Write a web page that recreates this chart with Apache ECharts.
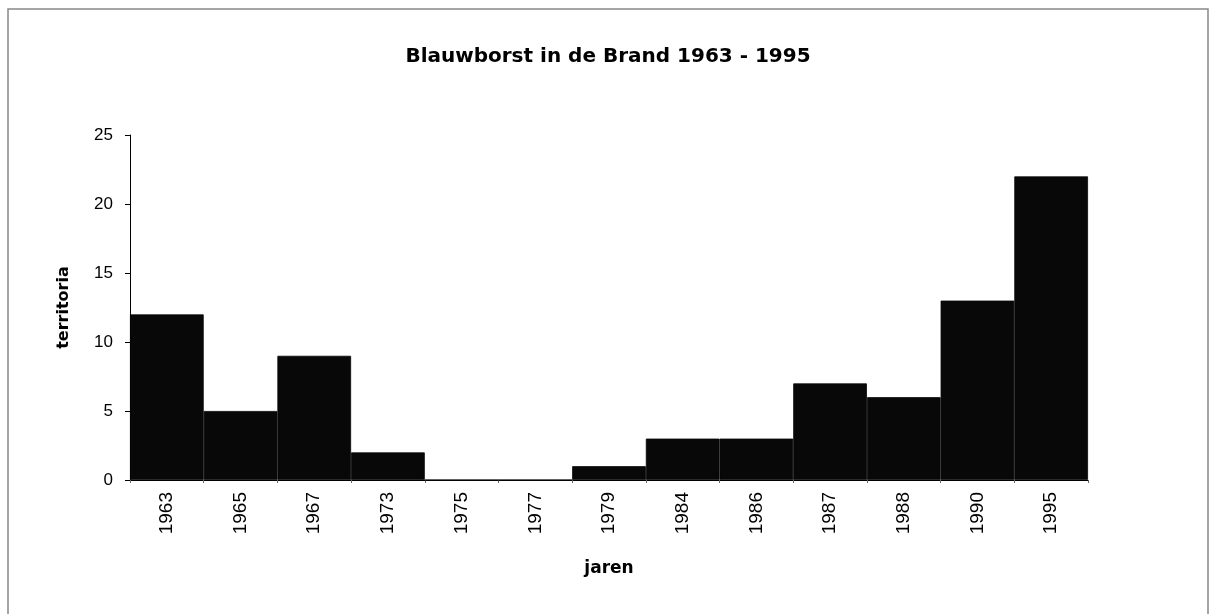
<!DOCTYPE html>
<html>
<head>
<meta charset="utf-8">
<script src="https://cdn.jsdelivr.net/npm/echarts@6/dist/echarts.min.js"></script>
<style>
  html, body { margin: 0; padding: 0; background: #fff; }
  #chart { width: 1216px; height: 614px; }
</style>
</head>
<body>
<div id="chart"></div>
<script>
const years = ['1963', '1965', '1967', '1973', '1975', '1977', '1979', '1984', '1986', '1987', '1988', '1990', '1995']
const territoria = [12, 5, 9, 2, 0, 0, 1, 3, 3, 7, 6, 13, 22]
const yTicks = { min: 0, max: 25, interval: 5 }

const chart = echarts.init(document.getElementById('chart'))

const font = '"Liberation Sans", Arial, sans-serif'
const wideFont = '"DejaVu Sans", sans-serif'

const option = {
  backgroundColor: '#fff',
  animation: false,
  graphic: [
    {
      type: 'rect',
      shape: { x: 8, y: 9, width: 1200, height: 640 },
      style: { fill: 'none', stroke: '#888', lineWidth: 1.5 },
      silent: true
    }
  ],
  title: {
    text: 'Blauwborst in de Brand 1963 - 1995',
    left: 'center',
    top: 42,
    textStyle: { fontFamily: wideFont, fontSize: 20, fontWeight: 'bold', color: '#000' }
  },
  grid: { left: 130, right: 128, top: 135, bottom: 134 },
  xAxis: {
    type: 'category',
    data: years,
    name: 'jaren',
    nameLocation: 'middle',
    nameGap: 80,
    nameTextStyle: { fontFamily: wideFont, fontSize: 17, fontWeight: 'bold', color: '#000' },
    axisLine: { lineStyle: { color: '#000', width: 1 } },
    axisTick: { show: true, length: 3, lineStyle: { color: '#666' } },
    axisLabel: { rotate: 90, fontFamily: font, fontSize: 19, color: '#000', margin: 12 }
  },
  yAxis: {
    type: 'value',
    min: yTicks.min,
    max: yTicks.max,
    interval: yTicks.interval,
    name: 'territoria',
    nameLocation: 'middle',
    nameGap: 58,
    nameTextStyle: { fontFamily: wideFont, fontSize: 16, fontWeight: 'bold', color: '#000' },
    axisLine: { show: true, lineStyle: { color: '#000', width: 1 } },
    axisTick: { show: true, length: 5, lineStyle: { color: '#000' } },
    axisLabel: { fontFamily: font, fontSize: 17, color: '#000', margin: 17 },
    splitLine: { show: false }
  },
  series: [
    {
      type: 'bar',
      data: territoria,
      barCategoryGap: '0%',
      itemStyle: { color: '#080808', borderColor: '#080808', borderWidth: 0.8 }
    }
  ]
}

chart.setOption(option)
</script>
</body>
</html>
